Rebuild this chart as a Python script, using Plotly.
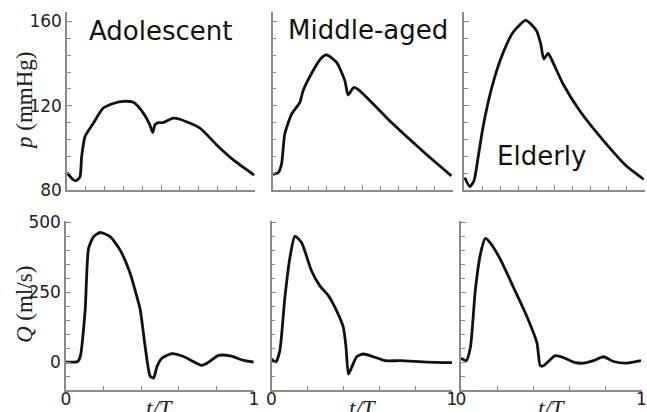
import plotly.graph_objects as go

W, H = 647, 412

# ---------------- data ----------------
groups = ["Adolescent", "Middle-aged", "Elderly"]

# pressure p (mmHg) vs t/T
t_p_adol = [0.0, 0.034, 0.05, 0.069, 0.078, 0.096, 0.14, 0.193, 0.25, 0.30, 0.353, 0.406, 0.44, 0.456, 0.468, 0.486, 0.512, 0.565, 0.60, 0.707, 0.796, 0.885, 0.995]
p_adol = [88.2, 84.8, 84.5, 86.3, 95.9, 105.4, 111.7, 118.9, 121.2, 122.1, 121.6, 116.5, 111.0, 107.3, 111.0, 112.0, 112.0, 114.1, 113.6, 109.4, 101.4, 94.3, 87.1]

t_p_mid = [0.0, 0.031, 0.05, 0.068, 0.106, 0.152, 0.17, 0.226, 0.27, 0.30, 0.356, 0.402, 0.42, 0.452, 0.485, 0.67, 0.854, 0.994]
p_mid = [87.5, 88.2, 92.2, 106.5, 116.0, 121.6, 127.1, 136.7, 142.5, 144.1, 140.6, 131.9, 125.1, 128.7, 127.1, 111.3, 97.0, 86.7]

t_p_eld = [0.004, 0.032, 0.055, 0.078, 0.105, 0.152, 0.207, 0.272, 0.342, 0.401, 0.425, 0.442, 0.466, 0.484, 0.549, 0.641, 0.789, 0.90, 0.996]
p_eld = [85.9, 81.6, 84.3, 95.4, 109.7, 128.0, 143.0, 154.9, 160.5, 155.7, 149.4, 142.2, 144.9, 142.2, 130.3, 117.6, 101.8, 91.4, 85.1]

# flow Q (ml/s) vs t/T
t_q_adol = [0.0, 0.062, 0.076, 0.102, 0.12, 0.147, 0.182, 0.235, 0.288, 0.341, 0.377, 0.395, 0.421, 0.448, 0.466, 0.484, 0.51, 0.564, 0.625, 0.723, 0.75, 0.812, 0.874, 0.945, 0.998]
q_adol = [0, 2, 20, 187, 407, 449, 464, 449, 401, 318, 234, 187, 56, -51, -57, -16, 14, 30, 20, -12, -4, 24, 22, 6, 0]

t_q_mid = [0.0, 0.024, 0.046, 0.074, 0.102, 0.13, 0.167, 0.222, 0.268, 0.315, 0.361, 0.398, 0.413, 0.426, 0.444, 0.472, 0.509, 0.565, 0.63, 0.713, 0.861, 1.0]
q_mid = [11, 0, 40, 231, 374, 451, 427, 326, 273, 238, 183, 124, 52, -43, -19, 19, 29, 19, 5, 5, 0, -2]

t_q_eld = [0.0, 0.029, 0.052, 0.079, 0.107, 0.135, 0.162, 0.218, 0.291, 0.365, 0.421, 0.439, 0.457, 0.522, 0.568, 0.623, 0.679, 0.734, 0.79, 0.845, 0.919, 0.997]
q_eld = [14, 5, 52, 255, 385, 443, 427, 368, 267, 163, 68, -13, -13, 23, 16, 0, -4, 5, 19, 2, -4, 5]

p_ticks = [80, 120, 160]
q_ticks = [0, 250, 500]
t_ticks_bottom = [0, 1]

# ---------------- layout helpers ----------------
def fx(px):
    return px / W

def fy(py):
    return 1 - py / H

AX_COLOR = "#8a8a8a"
TXT_COLOR = "#222222"
TICK_FONT = dict(family="DejaVu Sans", size=17, color=TXT_COLOR)

top_x = [(67, 255), (272.5, 452.5), (464, 644.5)]
bot_x = [(66, 254), (271.5, 452), (461, 641.5)]
top_y = (12, 190)
bot_y = (220.5, 390)

p_series = [(t_p_adol, p_adol), (t_p_mid, p_mid), (t_p_eld, p_eld)]
q_series = [(t_q_adol, q_adol), (t_q_mid, q_mid), (t_q_eld, q_eld)]

fig = go.Figure()
layout = {}
line_style = dict(color="#111111", width=2.8, shape="spline", smoothing=0.6)

for i in range(3):
    ti, bi = i + 1, i + 4
    tx = f"x{ti}" if ti > 1 else "x"
    ty = f"y{ti}" if ti > 1 else "y"
    bx, by = f"x{bi}", f"y{bi}"

    fig.add_trace(go.Scatter(x=p_series[i][0], y=p_series[i][1], mode="lines",
                             line=line_style, xaxis=tx, yaxis=ty, showlegend=False))
    fig.add_trace(go.Scatter(x=q_series[i][0], y=q_series[i][1], mode="lines",
                             line=line_style, xaxis=bx, yaxis=by, showlegend=False))

    common = dict(showline=True, linecolor=AX_COLOR, linewidth=1.5, showgrid=False,
                  zeroline=False, ticks="inside", tickcolor=AX_COLOR, ticklen=5,
                  tickwidth=1, tickfont=TICK_FONT, automargin=False)

    layout[f"xaxis{ti}" if ti > 1 else "xaxis"] = dict(
        common, domain=[fx(top_x[i][0]), fx(top_x[i][1])], range=[0, 1],
        anchor=ty, tickvals=[0, 0.5, 1], showticklabels=False,
        minor=dict(dtick=0.1, tick0=0, ticks="inside", ticklen=4, tickcolor=AX_COLOR))
    layout[f"yaxis{ti}" if ti > 1 else "yaxis"] = dict(
        common, domain=[fy(top_y[1]), fy(top_y[0])], range=[80, 164.5],
        anchor=tx, tickvals=p_ticks, ticktext=[str(v) for v in p_ticks],
        showticklabels=(i == 0),
        minor=dict(dtick=8, tick0=80, ticks="inside", ticklen=4, tickcolor=AX_COLOR))
    layout[f"xaxis{bi}"] = dict(
        common, domain=[fx(bot_x[i][0]), fx(bot_x[i][1])], range=[0, 1],
        anchor=by, tickvals=t_ticks_bottom, ticktext=[str(v) for v in t_ticks_bottom],
        ticklabelstandoff=-7,
        minor=dict(dtick=0.2, tick0=0, ticks="inside", ticklen=4, tickcolor=AX_COLOR))
    layout[f"yaxis{bi}"] = dict(
        common, domain=[fy(bot_y[1]), fy(bot_y[0])], range=[-100, 507],
        anchor=bx, tickvals=q_ticks, ticktext=[str(v) for v in q_ticks],
        showticklabels=(i == 0),
        minor=dict(dtick=50, tick0=0, ticks="inside", ticklen=4, tickcolor=AX_COLOR))

annotations = []
title_font = dict(family="DejaVu Sans", size=26, color="#111111")
for name, cx, cy in [(groups[0], 160, 31), (groups[1], 368, 30), (groups[2], 541, 156)]:
    annotations.append(dict(text=name, x=fx(cx), y=fy(cy), xref="paper", yref="paper",
                            showarrow=False, font=title_font, xanchor="center", yanchor="middle"))

serif = dict(family="Liberation Serif", size=23, color=TXT_COLOR)
annotations.append(dict(text="<i>p</i> (mmHg)", x=fx(24), y=fy(101), xref="paper", yref="paper",
                        showarrow=False, font=serif, textangle=-90, xanchor="center", yanchor="middle"))
annotations.append(dict(text="<i>Q</i> (ml/s)", x=fx(24), y=fy(305), xref="paper", yref="paper",
                        showarrow=False, font=serif, textangle=-90, xanchor="center", yanchor="middle"))
for cx in [160, 363, 552]:
    annotations.append(dict(text="<i>t/T</i>", x=fx(cx), y=fy(394), xref="paper", yref="paper",
                            showarrow=False, font=dict(family="Liberation Serif", size=23, color=TXT_COLOR),
                            xanchor="center", yanchor="top"))

fig.update_layout(width=W, height=H, autosize=False,
                  margin=dict(l=0, r=0, t=0, b=0),
                  paper_bgcolor="white", plot_bgcolor="white",
                  annotations=annotations, **layout)

fig.write_html("out.html", config={"displayModeBar": False},
               post_script="document.body.style.margin='0';document.body.style.overflow='hidden';")
